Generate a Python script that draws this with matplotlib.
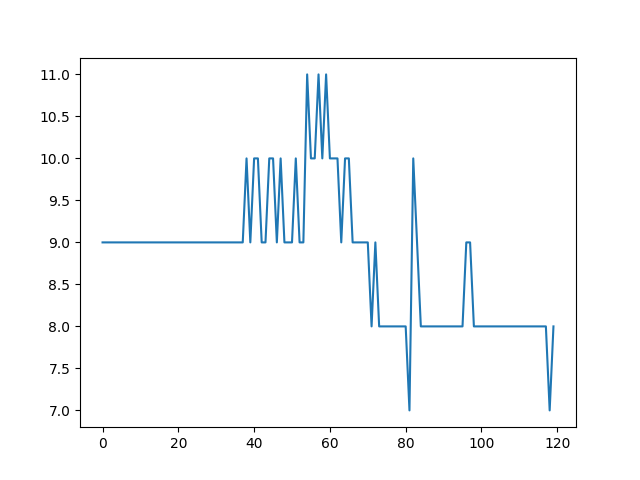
import matplotlib
matplotlib.use("Agg")
import matplotlib.pyplot as plt

# values, one per step
values = [
    9, 9, 9, 9, 9, 9, 9, 9, 9, 9,
    9, 9, 9, 9, 9, 9, 9, 9, 9, 9,
    9, 9, 9, 9, 9, 9, 9, 9, 9, 9,
    9, 9, 9, 9, 9, 9, 9, 9, 10, 9,
    10, 10, 9, 9, 10, 10, 9, 10, 9, 9,
    9, 10, 9, 9, 11, 10, 10, 11, 10, 11,
    10, 10, 10, 9, 10, 10, 9, 9, 9, 9,
    9, 8, 9, 8, 8, 8, 8, 8, 8, 8,
    8, 7, 10, 9, 8, 8, 8, 8, 8, 8,
    8, 8, 8, 8, 8, 8, 9, 9, 8, 8,
    8, 8, 8, 8, 8, 8, 8, 8, 8, 8,
    8, 8, 8, 8, 8, 8, 8, 8, 7, 8,
]

fig, ax = plt.subplots(figsize=(6.4, 4.8), dpi=100)
ax.plot(values)

fig.savefig("out.png")
